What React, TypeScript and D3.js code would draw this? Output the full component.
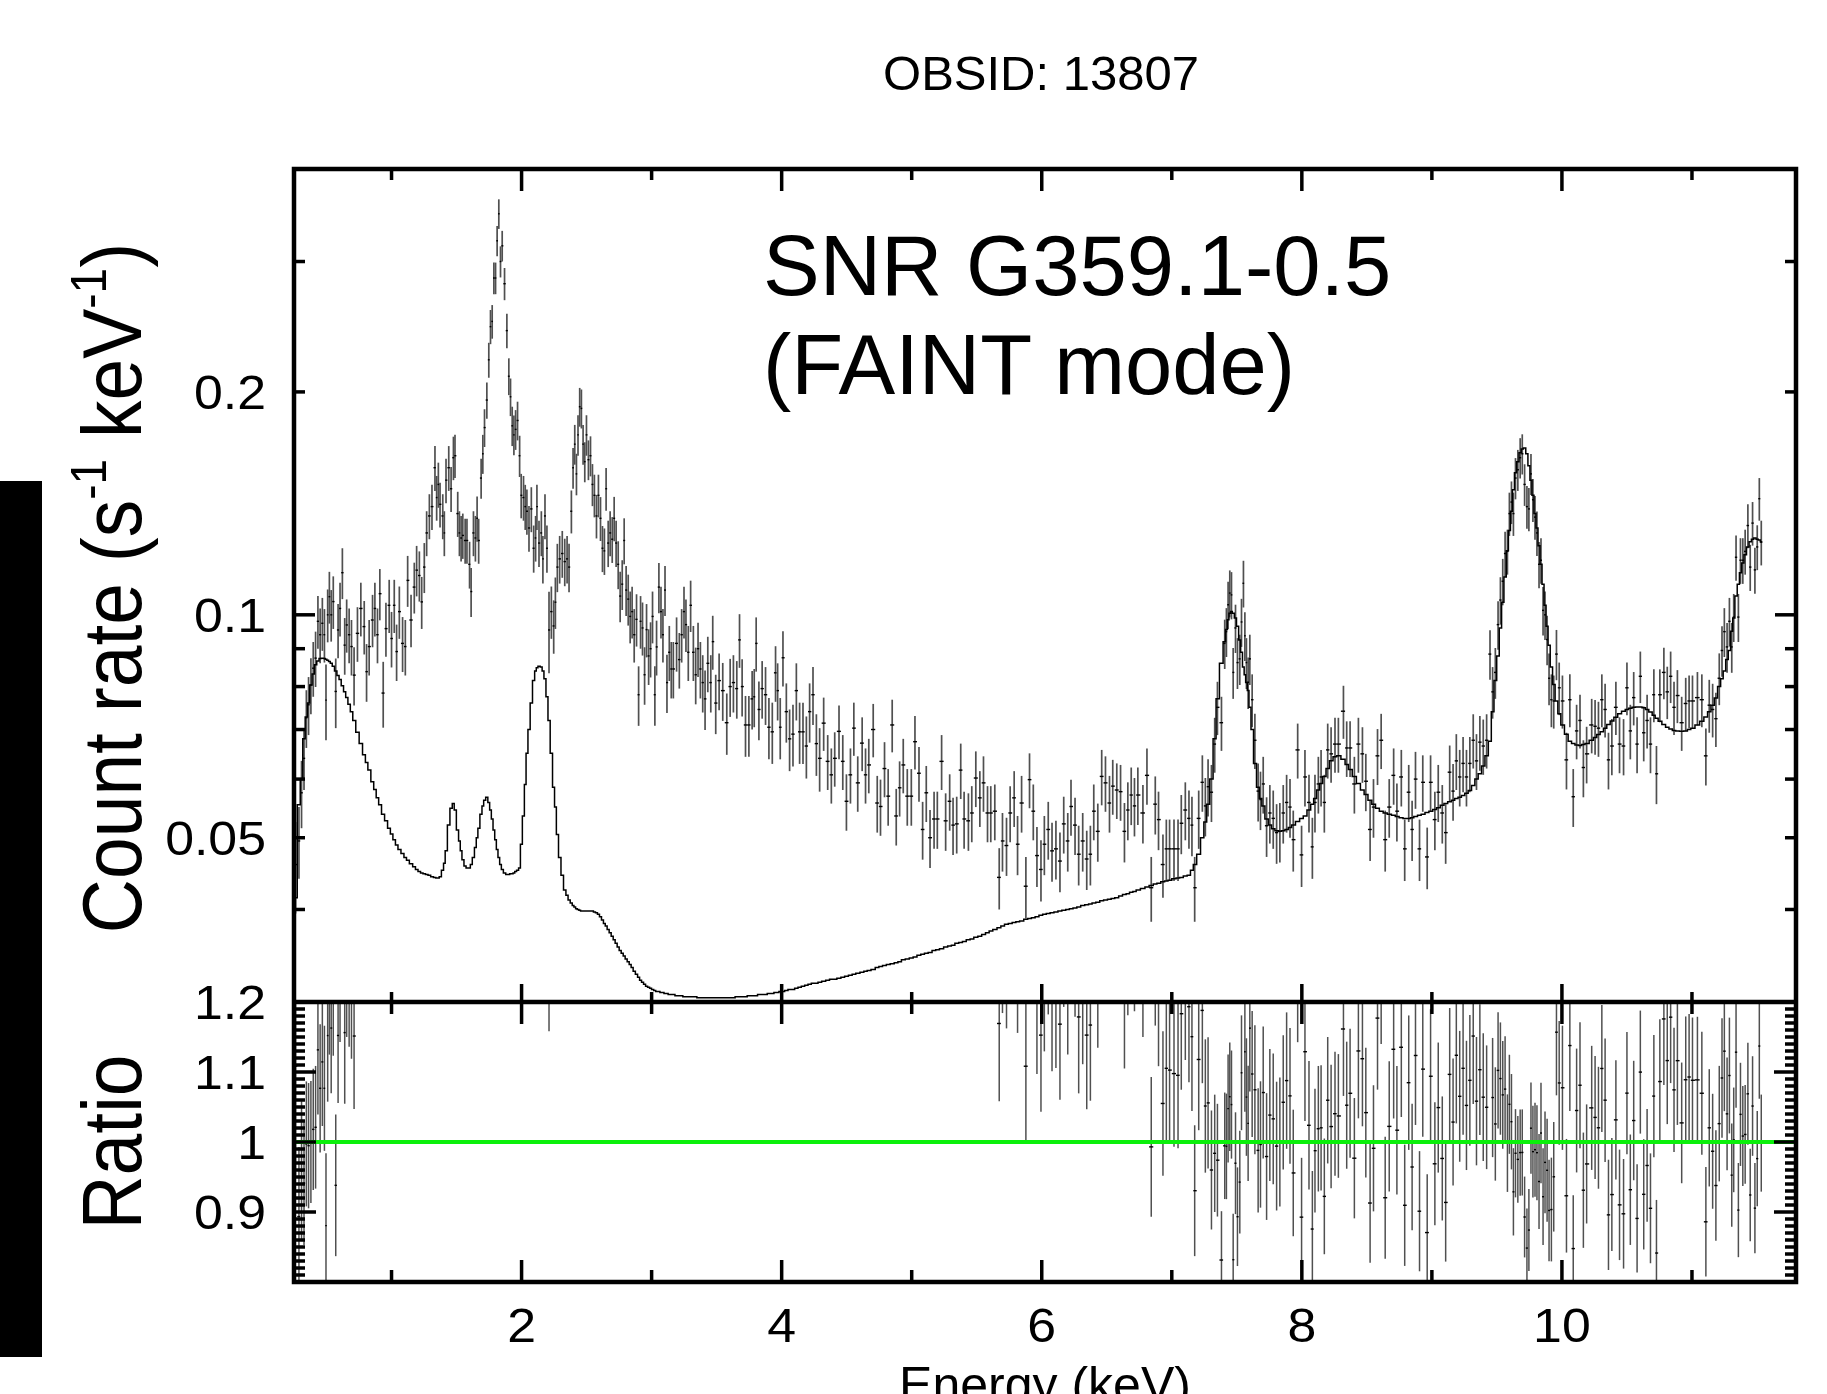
import * as d3 from "d3";
import React, { useEffect, useRef } from "react";

const WIDTH = 1827;
const HEIGHT = 1394;

// grouped channels: [energy keV, rate (s^-1 keV^-1), 1-sigma error, folded model]
const chanSoft = [
  [0.262, 0.046, 0.0065, 0.0415], [0.288, 0.0495, 0.0055, 0.0554], [0.308, 0.0575, 0.006, 0.06], [0.327, 0.064, 0.006, 0.068],
  [0.345, 0.0726, 0.0065, 0.0728], [0.362, 0.0756, 0.0068, 0.076], [0.38, 0.0804, 0.007, 0.0804], [0.398, 0.0847, 0.0072, 0.0832],
  [0.416, 0.0874, 0.0075, 0.0856], [0.434, 0.098, 0.008, 0.0866], [0.451, 0.094, 0.008, 0.0873], [0.468, 0.0974, 0.008, 0.0874],
  [0.484, 0.094, 0.0078, 0.0873], [0.496, 0.0767, 0.009, 0.0871], [0.509, 0.1, 0.0082, 0.0868], [0.522, 0.1058, 0.0085, 0.0865],
  [0.536, 0.1, 0.008, 0.086], [0.552, 0.1042, 0.0085, 0.0852], [0.571, 0.0788, 0.0085, 0.084], [0.589, 0.0954, 0.008, 0.0828],
  [0.604, 0.102, 0.0085, 0.0818], [0.622, 0.114, 0.009, 0.0802], [0.64, 0.091, 0.008, 0.0787], [0.655, 0.0969, 0.008, 0.0773],
  [0.674, 0.094, 0.008, 0.0757], [0.692, 0.0906, 0.0078, 0.074], [0.712, 0.0829, 0.0075, 0.072], [0.738, 0.0944, 0.008, 0.0694],
  [0.764, 0.102, 0.0085, 0.067], [0.79, 0.0964, 0.008, 0.0647], [0.808, 0.0838, 0.0075, 0.0632], [0.828, 0.0906, 0.0078, 0.0617],
  [0.854, 0.0984, 0.008, 0.0595], [0.872, 0.102, 0.0085, 0.0581], [0.892, 0.094, 0.008, 0.0566], [0.91, 0.1068, 0.0085, 0.0554],
  [0.936, 0.0784, 0.008, 0.0538], [0.957, 0.0958, 0.008, 0.0527], [0.982, 0.103, 0.0085, 0.0515], [1.0, 0.0929, 0.008, 0.0506],
  [1.021, 0.103, 0.0085, 0.0497], [1.039, 0.0892, 0.0078, 0.0489], [1.06, 0.101, 0.0082, 0.0482], [1.085, 0.0915, 0.0078, 0.0476],
  [1.106, 0.0906, 0.0078, 0.047], [1.124, 0.1113, 0.0088, 0.0466], [1.15, 0.0984, 0.008, 0.0461], [1.175, 0.109, 0.0086, 0.0457],
  [1.193, 0.1149, 0.009, 0.0453], [1.214, 0.113, 0.0088, 0.045], [1.232, 0.1041, 0.0084, 0.0448], [1.252, 0.116, 0.009, 0.0447],
];

// Mg / Si blend and the Si peak
const chanSi = [
  [1.27, 0.129, 0.009, 0.0446], [1.291, 0.136, 0.0095, 0.0445], [1.311, 0.14, 0.0098, 0.0443], [1.334, 0.158, 0.011, 0.0442],
  [1.347, 0.144, 0.01, 0.0441], [1.36, 0.15, 0.0105, 0.0441], [1.373, 0.141, 0.0098, 0.0443], [1.394, 0.136, 0.0095, 0.0452],
  [1.406, 0.129, 0.009, 0.0462], [1.419, 0.152, 0.0105, 0.048], [1.44, 0.158, 0.011, 0.052], [1.458, 0.148, 0.0103, 0.0548],
  [1.476, 0.163, 0.011, 0.0556], [1.488, 0.164, 0.011, 0.0545], [1.509, 0.137, 0.0096, 0.0512], [1.522, 0.129, 0.009, 0.0495],
  [1.535, 0.127, 0.009, 0.048], [1.548, 0.128, 0.009, 0.0467], [1.566, 0.126, 0.0088, 0.0458], [1.58, 0.126, 0.0088, 0.0455],
  [1.6, 0.117, 0.0085, 0.0455], [1.612, 0.1075, 0.0082, 0.046], [1.63, 0.129, 0.009, 0.047], [1.645, 0.127, 0.009, 0.0485],
  [1.658, 0.135, 0.0095, 0.05], [1.67, 0.126, 0.0088, 0.0515], [1.689, 0.153, 0.0095, 0.0538], [1.702, 0.165, 0.01, 0.0552],
  [1.715, 0.179, 0.0105, 0.0562], [1.733, 0.195, 0.011, 0.0567], [1.748, 0.221, 0.012, 0.0558], [1.761, 0.245, 0.013, 0.0545],
  [1.774, 0.249, 0.013, 0.053], [1.787, 0.285, 0.014, 0.0512], [1.8, 0.285, 0.014, 0.0497], [1.812, 0.32, 0.015, 0.0482],
  [1.825, 0.348, 0.016, 0.047], [1.838, 0.3, 0.0145, 0.046], [1.851, 0.315, 0.015, 0.0453], [1.869, 0.28, 0.014, 0.0448],
  [1.887, 0.242, 0.013, 0.0446], [1.902, 0.21, 0.012, 0.0446], [1.915, 0.197, 0.0115, 0.0447], [1.928, 0.18, 0.011, 0.0447],
  [1.941, 0.175, 0.0108, 0.0448], [1.954, 0.178, 0.011, 0.045], [1.969, 0.183, 0.011, 0.0452], [1.985, 0.164, 0.0105, 0.0455],
  [1.997, 0.145, 0.01, 0.049], [2.015, 0.144, 0.01, 0.0535], [2.028, 0.14, 0.0098, 0.059], [2.041, 0.138, 0.0097, 0.065],
  [2.057, 0.131, 0.0093, 0.07], [2.075, 0.139, 0.0097, 0.076], [2.093, 0.123, 0.009, 0.0815], [2.108, 0.127, 0.009, 0.084],
  [2.118, 0.14, 0.0098, 0.0848], [2.134, 0.125, 0.009, 0.0852], [2.152, 0.129, 0.009, 0.085], [2.164, 0.119, 0.0088, 0.084],
  [2.18, 0.136, 0.0095, 0.082], [2.195, 0.123, 0.009, 0.0775], [2.211, 0.0954, 0.012, 0.072], [2.229, 0.101, 0.0082, 0.065],
  [2.247, 0.0966, 0.008, 0.0585], [2.26, 0.104, 0.0083, 0.055], [2.275, 0.116, 0.0087, 0.0505], [2.293, 0.119, 0.0088, 0.047],
  [2.313, 0.121, 0.0088, 0.0445], [2.332, 0.118, 0.0087, 0.0425], [2.35, 0.119, 0.0088, 0.0418], [2.365, 0.116, 0.0087, 0.0412],
];

// S peak and the continuum down to 4.3 keV
const chanS = [
  [2.383, 0.138, 0.0092, 0.0408], [2.396, 0.158, 0.01, 0.0405], [2.409, 0.17, 0.0105, 0.0403], [2.422, 0.155, 0.01, 0.0401],
  [2.434, 0.175, 0.011, 0.04], [2.447, 0.191, 0.0115, 0.0399], [2.46, 0.19, 0.0115, 0.0398], [2.473, 0.17, 0.0105, 0.0398],
  [2.486, 0.161, 0.01, 0.0398], [2.499, 0.175, 0.011, 0.0398], [2.514, 0.162, 0.01, 0.0398], [2.53, 0.164, 0.0102, 0.0398],
  [2.545, 0.15, 0.0098, 0.0398], [2.56, 0.145, 0.0096, 0.0397], [2.576, 0.136, 0.0092, 0.0396], [2.591, 0.145, 0.0096, 0.0394],
  [2.607, 0.135, 0.0092, 0.0391], [2.622, 0.123, 0.0088, 0.0387], [2.637, 0.122, 0.0088, 0.0383], [2.65, 0.148, 0.0098, 0.038],
  [2.666, 0.125, 0.009, 0.0376], [2.681, 0.129, 0.009, 0.0372], [2.697, 0.1265, 0.009, 0.0368], [2.712, 0.135, 0.0093, 0.0364],
  [2.727, 0.125, 0.009, 0.036], [2.743, 0.117, 0.0087, 0.0356], [2.758, 0.106, 0.0083, 0.0352], [2.774, 0.11, 0.0085, 0.0349],
  [2.789, 0.126, 0.009, 0.0346], [2.804, 0.108, 0.0084, 0.0343], [2.82, 0.105, 0.0083, 0.034], [2.835, 0.0995, 0.008, 0.0337],
  [2.85, 0.101, 0.0081, 0.0334], [2.866, 0.094, 0.0078, 0.033], [2.884, 0.0986, 0.008, 0.0327], [2.9, 0.078, 0.0072, 0.0324],
  [2.915, 0.098, 0.008, 0.0321], [2.93, 0.096, 0.0079, 0.0319], [2.946, 0.083, 0.0074, 0.0317], [2.961, 0.0955, 0.0079, 0.0315],
  [2.977, 0.088, 0.0076, 0.0314], [2.992, 0.09, 0.0077, 0.0313], [3.007, 0.0995, 0.008, 0.0312], [3.025, 0.078, 0.0072, 0.0311],
  [3.038, 0.0905, 0.0077, 0.031], [3.056, 0.109, 0.0085, 0.031], [3.072, 0.101, 0.0081, 0.0309], [3.087, 0.094, 0.0078, 0.0309],
  [3.103, 0.108, 0.0084, 0.0308], [3.118, 0.081, 0.0073, 0.0308], [3.136, 0.089, 0.0076, 0.0307], [3.151, 0.0845, 0.0074, 0.0307],
  [3.167, 0.0845, 0.0074, 0.0307], [3.192, 0.0915, 0.0077, 0.0306], [3.213, 0.087, 0.0075, 0.0306], [3.231, 0.094, 0.0078, 0.0306],
  [3.249, 0.101, 0.0081, 0.0305], [3.264, 0.097, 0.0079, 0.0305], [3.282, 0.089, 0.0076, 0.0305], [3.3, 0.103, 0.0082, 0.0305],
  [3.321, 0.089, 0.0076, 0.0305], [3.339, 0.083, 0.0073, 0.0305], [3.357, 0.09, 0.0076, 0.0304], [3.375, 0.0845, 0.0074, 0.0304],
  [3.393, 0.081, 0.0072, 0.0304], [3.411, 0.077, 0.0071, 0.0304], [3.432, 0.086, 0.0074, 0.0304], [3.455, 0.081, 0.0072, 0.0304],
  [3.47, 0.092, 0.0077, 0.0304], [3.493, 0.076, 0.007, 0.0304], [3.519, 0.0815, 0.0072, 0.0304], [3.547, 0.079, 0.0071, 0.0304],
  [3.578, 0.0715, 0.0068, 0.0304], [3.604, 0.08, 0.0072, 0.0304], [3.629, 0.081, 0.0072, 0.0304], [3.655, 0.0795, 0.0071, 0.0305],
  [3.676, 0.0925, 0.0077, 0.0305], [3.696, 0.08, 0.0071, 0.0305], [3.722, 0.071, 0.0067, 0.0305], [3.748, 0.071, 0.0067, 0.0306],
  [3.773, 0.077, 0.007, 0.0306], [3.789, 0.0775, 0.007, 0.0306], [3.804, 0.0915, 0.0077, 0.0306], [3.825, 0.0745, 0.0068, 0.0307],
  [3.85, 0.0795, 0.0071, 0.0307], [3.876, 0.078, 0.007, 0.0307], [3.902, 0.0705, 0.0067, 0.0308], [3.928, 0.0695, 0.0066, 0.0308],
  [3.953, 0.0835, 0.0072, 0.0309], [3.969, 0.079, 0.007, 0.0309], [3.989, 0.0705, 0.0067, 0.031], [4.01, 0.0875, 0.0075, 0.031],
  [4.036, 0.074, 0.0068, 0.0311], [4.061, 0.068, 0.0065, 0.0312], [4.087, 0.069, 0.0066, 0.0312], [4.113, 0.079, 0.007, 0.0313],
  [4.138, 0.0695, 0.0066, 0.0314], [4.164, 0.0695, 0.0066, 0.0315], [4.19, 0.0665, 0.0064, 0.0316], [4.215, 0.074, 0.0068, 0.0317],
  [4.241, 0.078, 0.007, 0.0318], [4.267, 0.067, 0.0064, 0.0318], [4.292, 0.064, 0.0063, 0.0319],
];

// 4.3 - 6.6 keV continuum
const chanMid = [
  [4.323, 0.0714, 0.0059, 0.032], [4.354, 0.0634, 0.0054, 0.0321], [4.382, 0.0608, 0.0052, 0.0322], [4.408, 0.064, 0.0054, 0.0322],
  [4.441, 0.0696, 0.0058, 0.0323], [4.47, 0.0634, 0.0054, 0.0324], [4.498, 0.056, 0.0049, 0.0325], [4.529, 0.0608, 0.0052, 0.0326],
  [4.555, 0.0703, 0.0058, 0.0327], [4.585, 0.0593, 0.0051, 0.0328], [4.619, 0.0671, 0.0056, 0.0329], [4.645, 0.0608, 0.0052, 0.033],
  [4.67, 0.0627, 0.0053, 0.0331], [4.704, 0.07, 0.0058, 0.0332], [4.735, 0.0557, 0.0049, 0.0334], [4.76, 0.0551, 0.0048, 0.0335],
  [4.791, 0.062, 0.0053, 0.0336], [4.819, 0.0569, 0.005, 0.0337], [4.85, 0.071, 0.0058, 0.0338], [4.881, 0.0535, 0.0047, 0.0339],
  [4.907, 0.0584, 0.005, 0.034], [4.935, 0.0627, 0.0053, 0.0342], [4.966, 0.0569, 0.005, 0.0343], [4.997, 0.0569, 0.005, 0.0344],
  [5.025, 0.0674, 0.0056, 0.0345], [5.056, 0.0611, 0.0052, 0.0347], [5.084, 0.0513, 0.0046, 0.0348], [5.112, 0.0575, 0.005, 0.0349],
  [5.141, 0.05, 0.0045, 0.035], [5.172, 0.053, 0.0047, 0.0352], [5.197, 0.053, 0.0047, 0.0353], [5.23, 0.0634, 0.0054, 0.0354],
  [5.261, 0.0527, 0.0047, 0.0356], [5.292, 0.056, 0.0049, 0.0357], [5.318, 0.052, 0.0046, 0.0358], [5.346, 0.0522, 0.0046, 0.036],
  [5.377, 0.0617, 0.0053, 0.0361], [5.403, 0.053, 0.0047, 0.0362], [5.436, 0.0527, 0.0047, 0.0364], [5.462, 0.054, 0.0047, 0.0365],
  [5.493, 0.0602, 0.0052, 0.0367], [5.524, 0.0566, 0.0049, 0.0368], [5.552, 0.0593, 0.0051, 0.037], [5.583, 0.054, 0.0047, 0.0372],
  [5.608, 0.054, 0.0047, 0.0374], [5.639, 0.0543, 0.0047, 0.0376], [5.673, 0.0442, 0.0042, 0.0378], [5.698, 0.0495, 0.0045, 0.038],
  [5.729, 0.0488, 0.0044, 0.0382], [5.757, 0.054, 0.0047, 0.0383], [5.788, 0.0566, 0.0049, 0.0384], [5.814, 0.049, 0.0045, 0.0385],
  [5.845, 0.0557, 0.0049, 0.0386], [5.878, 0.043, 0.0041, 0.0388], [5.906, 0.0599, 0.0051, 0.0389], [5.935, 0.0543, 0.0047, 0.039],
  [5.963, 0.0473, 0.0044, 0.0391], [5.994, 0.0453, 0.0043, 0.0393], [6.02, 0.049, 0.0045, 0.0394], [6.05, 0.0513, 0.0046, 0.0395],
  [6.079, 0.048, 0.0044, 0.0396], [6.109, 0.0483, 0.0044, 0.0397], [6.14, 0.0465, 0.0043, 0.0398], [6.169, 0.0522, 0.0046, 0.0399],
  [6.2, 0.0495, 0.0045, 0.04], [6.225, 0.0551, 0.0048, 0.0401], [6.256, 0.052, 0.0046, 0.0402], [6.284, 0.0475, 0.0044, 0.0403],
  [6.315, 0.0495, 0.0045, 0.0405], [6.346, 0.0468, 0.0043, 0.0406], [6.374, 0.0475, 0.0044, 0.0407], [6.4, 0.0543, 0.0047, 0.0408],
  [6.431, 0.051, 0.0046, 0.0409], [6.461, 0.0605, 0.0052, 0.0411], [6.49, 0.0593, 0.0051, 0.0412], [6.521, 0.0557, 0.0049, 0.0413],
  [6.546, 0.0587, 0.005, 0.0414], [6.577, 0.058, 0.005, 0.0415], [6.606, 0.0577, 0.005, 0.0417],
];

// first hard line near 7.45 keV and the bump near 8.3 keV
const chanHardA = [
  [6.636, 0.051, 0.0047, 0.0419], [6.662, 0.0545, 0.0049, 0.042], [6.688, 0.0571, 0.0051, 0.0422], [6.713, 0.0552, 0.005, 0.0423],
  [6.739, 0.0571, 0.0051, 0.0425], [6.778, 0.054, 0.0049, 0.0427], [6.809, 0.0607, 0.0053, 0.0429], [6.842, 0.0428, 0.0043, 0.0431],
  [6.873, 0.0555, 0.005, 0.0433], [6.898, 0.0529, 0.0048, 0.0434], [6.932, 0.046, 0.0045, 0.0436], [6.958, 0.0483, 0.0046, 0.0437],
  [6.983, 0.0483, 0.0046, 0.0438], [7.017, 0.0483, 0.0046, 0.044], [7.048, 0.0483, 0.0046, 0.0441], [7.073, 0.0523, 0.0048, 0.0442],
  [7.104, 0.0545, 0.0049, 0.0444], [7.132, 0.0531, 0.0048, 0.0445], [7.155, 0.052, 0.0048, 0.0452], [7.176, 0.0428, 0.0043, 0.046],
  [7.207, 0.0531, 0.0048, 0.0475], [7.235, 0.0594, 0.0052, 0.05], [7.258, 0.0552, 0.005, 0.0525], [7.279, 0.0586, 0.0052, 0.0555],
  [7.305, 0.0576, 0.0051, 0.06], [7.33, 0.0669, 0.0057, 0.068], [7.351, 0.075, 0.0062, 0.077], [7.382, 0.0715, 0.006, 0.086],
  [7.407, 0.0915, 0.007, 0.092], [7.42, 0.0949, 0.0072, 0.0955], [7.433, 0.1032, 0.0076, 0.0985], [7.446, 0.107, 0.0078, 0.1005],
  [7.459, 0.1064, 0.0078, 0.101], [7.472, 0.0836, 0.0066, 0.1005], [7.49, 0.096, 0.0072, 0.099], [7.505, 0.0862, 0.0068, 0.0965],
  [7.523, 0.0872, 0.0068, 0.0925], [7.536, 0.0978, 0.0073, 0.089], [7.551, 0.1103, 0.008, 0.085], [7.562, 0.0937, 0.0071, 0.083],
  [7.574, 0.0862, 0.0068, 0.081], [7.587, 0.0811, 0.0065, 0.079], [7.6, 0.0872, 0.0068, 0.075], [7.618, 0.0768, 0.0063, 0.07],
  [7.639, 0.0677, 0.0058, 0.063], [7.664, 0.0578, 0.0052, 0.0585], [7.682, 0.0563, 0.0051, 0.0565], [7.703, 0.0591, 0.0052, 0.0552],
  [7.729, 0.0519, 0.0048, 0.053], [7.754, 0.054, 0.0049, 0.052], [7.78, 0.0531, 0.0048, 0.0514], [7.806, 0.0508, 0.0047, 0.0511],
  [7.831, 0.051, 0.0047, 0.051], [7.857, 0.054, 0.0049, 0.0511], [7.883, 0.0558, 0.005, 0.0513], [7.909, 0.055, 0.005, 0.0516],
  [7.934, 0.0497, 0.0047, 0.052], [7.968, 0.0657, 0.0056, 0.0526], [7.998, 0.0474, 0.0045, 0.0531], [8.024, 0.0604, 0.0053, 0.0535],
  [8.055, 0.0558, 0.005, 0.0545], [8.081, 0.0486, 0.0046, 0.0555], [8.101, 0.0558, 0.005, 0.0565], [8.127, 0.0591, 0.0052, 0.058],
  [8.148, 0.0604, 0.0053, 0.0592], [8.173, 0.0558, 0.005, 0.0605], [8.199, 0.0657, 0.0056, 0.062], [8.225, 0.0649, 0.0056, 0.0635],
  [8.255, 0.0669, 0.0057, 0.0643], [8.281, 0.0669, 0.0057, 0.0645], [8.32, 0.0741, 0.0061, 0.0638], [8.345, 0.0661, 0.0057, 0.0628],
  [8.371, 0.0661, 0.0057, 0.0618], [8.404, 0.0591, 0.0052, 0.0605], [8.435, 0.0669, 0.0057, 0.0592], [8.466, 0.0649, 0.0056, 0.058],
  [8.492, 0.0596, 0.0053, 0.0572], [8.525, 0.0513, 0.0048, 0.0562], [8.551, 0.055, 0.005, 0.0555], [8.582, 0.0645, 0.0056, 0.0548],
  [8.61, 0.0677, 0.0058, 0.0543],
];

// the strong line near 9.7 keV and the rise above 11 keV
const chanHardB = [
  [8.641, 0.0497, 0.0047, 0.054], [8.672, 0.055, 0.005, 0.0538], [8.706, 0.0607, 0.0053, 0.0536], [8.731, 0.0543, 0.0049, 0.0534],
  [8.765, 0.0604, 0.0053, 0.0532], [8.791, 0.0483, 0.0046, 0.0531], [8.822, 0.0576, 0.0051, 0.0531], [8.848, 0.0513, 0.0048, 0.0532],
  [8.874, 0.06, 0.0053, 0.0534], [8.905, 0.0483, 0.0046, 0.0536], [8.93, 0.0594, 0.0052, 0.0538], [8.964, 0.0471, 0.0045, 0.0541],
  [8.99, 0.0594, 0.0052, 0.0543], [9.023, 0.0529, 0.0048, 0.0546], [9.049, 0.0576, 0.0051, 0.0549], [9.08, 0.054, 0.0049, 0.0553],
  [9.106, 0.0508, 0.0047, 0.0556], [9.137, 0.0613, 0.0053, 0.0559], [9.163, 0.0578, 0.0051, 0.0562], [9.188, 0.0635, 0.0055, 0.0565],
  [9.214, 0.0604, 0.0053, 0.0567], [9.24, 0.063, 0.0054, 0.057], [9.266, 0.0604, 0.0053, 0.0574], [9.292, 0.063, 0.0054, 0.0579],
  [9.318, 0.0677, 0.0057, 0.0588], [9.343, 0.0635, 0.0055, 0.06], [9.369, 0.0673, 0.0057, 0.061], [9.395, 0.0665, 0.0057, 0.0625],
  [9.421, 0.0677, 0.0057, 0.0645], [9.447, 0.0885, 0.0068, 0.0675], [9.467, 0.0787, 0.0063, 0.074], [9.488, 0.0836, 0.0066, 0.0815],
  [9.509, 0.097, 0.0073, 0.088], [9.527, 0.1047, 0.0077, 0.096], [9.545, 0.111, 0.008, 0.104], [9.563, 0.121, 0.0085, 0.1125],
  [9.581, 0.1218, 0.0085, 0.122], [9.596, 0.137, 0.0092, 0.13], [9.612, 0.142, 0.0094, 0.138], [9.627, 0.137, 0.0092, 0.1475],
  [9.643, 0.153, 0.0098, 0.1555], [9.661, 0.157, 0.01, 0.161], [9.679, 0.163, 0.0102, 0.1655], [9.695, 0.165, 0.0103, 0.1675],
  [9.713, 0.15, 0.0097, 0.168], [9.731, 0.14, 0.0093, 0.165], [9.746, 0.139, 0.0093, 0.159], [9.762, 0.155, 0.0099, 0.152],
  [9.777, 0.143, 0.0095, 0.145], [9.793, 0.1355, 0.0092, 0.137], [9.808, 0.129, 0.0089, 0.131], [9.824, 0.117, 0.0084, 0.124],
  [9.839, 0.1185, 0.0084, 0.117], [9.855, 0.1014, 0.0076, 0.11], [9.87, 0.1, 0.0075, 0.103], [9.886, 0.0926, 0.0071, 0.0965],
  [9.901, 0.0821, 0.0066, 0.091], [9.919, 0.0768, 0.0063, 0.085], [9.937, 0.0765, 0.0063, 0.0805], [9.958, 0.0885, 0.0069, 0.0765],
  [9.979, 0.0797, 0.0065, 0.0735], [10.004, 0.0765, 0.0063, 0.071], [10.035, 0.0637, 0.0056, 0.069], [10.061, 0.0768, 0.0063, 0.0675],
  [10.087, 0.0568, 0.0051, 0.067], [10.113, 0.0697, 0.0059, 0.0667], [10.139, 0.072, 0.006, 0.0666], [10.165, 0.0622, 0.0055, 0.0668],
  [10.19, 0.0649, 0.0057, 0.067], [10.229, 0.071, 0.006, 0.0677], [10.255, 0.0707, 0.006, 0.0683], [10.281, 0.0703, 0.006, 0.0689],
  [10.307, 0.0768, 0.0063, 0.0695], [10.332, 0.0745, 0.0062, 0.0703], [10.358, 0.0637, 0.0056, 0.0711], [10.384, 0.0665, 0.0058, 0.0719],
  [10.415, 0.075, 0.0062, 0.0727], [10.443, 0.0669, 0.0058, 0.0735], [10.474, 0.0665, 0.0058, 0.0741], [10.5, 0.0797, 0.0065, 0.0745],
  [10.526, 0.0697, 0.0059, 0.0748], [10.552, 0.0773, 0.0064, 0.075], [10.578, 0.0669, 0.0058, 0.0751], [10.603, 0.0826, 0.0066, 0.0751],
  [10.629, 0.0693, 0.0059, 0.0749], [10.655, 0.072, 0.006, 0.0745], [10.681, 0.0669, 0.0058, 0.0739], [10.707, 0.078, 0.0064, 0.0732],
  [10.727, 0.061, 0.0055, 0.0725], [10.753, 0.078, 0.0064, 0.0718], [10.784, 0.0836, 0.0067, 0.0711], [10.81, 0.0787, 0.0064, 0.0705],
  [10.836, 0.0826, 0.0066, 0.0701], [10.862, 0.075, 0.0062, 0.0698], [10.888, 0.0778, 0.0064, 0.0697], [10.921, 0.0715, 0.006, 0.0696],
  [10.952, 0.0759, 0.0063, 0.0697], [10.978, 0.0765, 0.0063, 0.07], [11.004, 0.0765, 0.0063, 0.0703], [11.042, 0.0773, 0.0064, 0.071],
  [11.076, 0.0768, 0.0063, 0.0718], [11.107, 0.0645, 0.0057, 0.0728], [11.133, 0.0755, 0.0062, 0.074], [11.159, 0.0745, 0.0062, 0.0755],
  [11.184, 0.0724, 0.0061, 0.0772], [11.21, 0.0821, 0.0066, 0.08], [11.231, 0.0895, 0.007, 0.082], [11.249, 0.0949, 0.0072, 0.084],
  [11.27, 0.0905, 0.007, 0.087], [11.288, 0.098, 0.0074, 0.0895], [11.306, 0.0905, 0.007, 0.095], [11.321, 0.0993, 0.0074, 0.099],
  [11.339, 0.1196, 0.0084, 0.106], [11.357, 0.0993, 0.0074, 0.11], [11.373, 0.1185, 0.0084, 0.114], [11.391, 0.1185, 0.0084, 0.1175],
  [11.409, 0.1218, 0.0085, 0.1205], [11.43, 0.132, 0.009, 0.1235], [11.448, 0.116, 0.0083, 0.1255], [11.466, 0.133, 0.009, 0.1265],
  [11.484, 0.115, 0.0082, 0.127], [11.502, 0.1235, 0.0086, 0.1265], [11.518, 0.1435, 0.0095, 0.1262], [11.533, 0.1253, 0.0087, 0.1255],
];

const energyRange = [0.25, 11.8];
const rateRange = [0.03, 0.4];
const ratioRange = [0.8, 1.2];
const energyLabels = [2, 4, 6, 8, 10];
const energyMinor = [1, 3, 5, 7, 9, 11];
const rateLabels = [0.05, 0.1, 0.2];
const rateDecades = [0.1];
const rateMinor = [0.04, 0.05, 0.06, 0.07, 0.08, 0.09, 0.2, 0.3];
const ratioLabels = [0.9, 1, 1.1, 1.2];
const ratioMajor = [0.9, 1.0, 1.1];

const obsTitle = "OBSID: 13807";
const sourceLines = ["SNR G359.1-0.5", "(FAINT mode)"];

const FONT = "'Liberation Sans', Arial, Helvetica, sans-serif";

const SpectrumPlot = () => {
  const svgRef = useRef(null);

  useEffect(() => {
    document.body.style.margin = "0";
    document.body.style.overflow = "hidden";

    const svg = d3.select(svgRef.current);
    svg.selectAll("*").remove();
    svg.attr("width", WIDTH).attr("height", HEIGHT).attr("font-family", FONT);

    const left = 294, right = 1796, top = 169, mid = 1002, bottom = 1282;

    const x = d3.scaleLinear().domain(energyRange).range([left, right]);
    const yRate = d3.scaleLog().domain(rateRange).range([mid, top]);
    const yRatio = d3.scaleLinear().domain(ratioRange).range([bottom, mid]);

    const chans = [...chanSoft, ...chanSi, ...chanS, ...chanMid, ...chanHardA, ...chanHardB]
      .map(([e, r, err, m]) => ({ e, r, err, m, lo: 0, hi: 0 }));
    // bin edges half-way to the neighbours
    chans.forEach((c, i) => {
      if (i > 0) c.lo = (chans[i - 1].e + c.e) / 2;
      if (i < chans.length - 1) c.hi = (c.e + chans[i + 1].e) / 2;
    });
    const first = chans[0], last = chans[chans.length - 1];
    first.lo = first.e - (first.hi - first.e);
    last.hi = last.e + (last.e - last.lo);

    svg.append("rect").attr("width", WIDTH).attr("height", HEIGHT).attr("fill", "#fff");

    const defs = svg.append("defs");
    defs.append("clipPath").attr("id", "clip-rate").append("rect")
      .attr("x", left).attr("y", top).attr("width", right - left).attr("height", mid - top);
    defs.append("clipPath").attr("id", "clip-ratio").append("rect")
      .attr("x", left).attr("y", mid).attr("width", right - left).attr("height", bottom - mid);

    const barColor = "#505050";

    // upper panel: data with error bars and the folded model
    const gRate = svg.append("g").attr("clip-path", "url(#clip-rate)");
    gRate.selectAll("line.err").data(chans).join("line").attr("class", "err")
      .attr("x1", d => x(d.e)).attr("x2", d => x(d.e))
      .attr("y1", d => yRate(d.r + d.err)).attr("y2", d => yRate(Math.max(d.r - d.err, 0.001)))
      .attr("stroke", barColor).attr("stroke-width", 1.7);
    gRate.selectAll("line.bin").data(chans).join("line").attr("class", "bin")
      .attr("x1", d => x(d.lo)).attr("x2", d => x(d.hi))
      .attr("y1", d => yRate(d.r)).attr("y2", d => yRate(d.r))
      .attr("stroke", "#000").attr("stroke-width", 1.4);

    const modelPts = [[first.lo, first.m], ...chans.map(c => [c.e, c.m]), [last.hi, last.m]];
    const step = d3.line().x(d => x(d[0])).y(d => yRate(d[1])).curve(d3.curveStep);
    gRate.append("path").attr("d", step(modelPts))
      .attr("fill", "none").attr("stroke", "#000").attr("stroke-width", 1.5);

    // lower panel: data / model
    const ratios = chans.map(c => ({ ...c, q: c.r / c.m, qe: c.err / c.m }));
    const gRatio = svg.append("g").attr("clip-path", "url(#clip-ratio)");
    gRatio.selectAll("line.err").data(ratios).join("line").attr("class", "err")
      .attr("x1", d => x(d.e)).attr("x2", d => x(d.e))
      .attr("y1", d => yRatio(d.q + d.qe)).attr("y2", d => yRatio(d.q - d.qe))
      .attr("stroke", barColor).attr("stroke-width", 1.5);
    gRatio.selectAll("line.bin").data(ratios).join("line").attr("class", "bin")
      .attr("x1", d => x(d.lo)).attr("x2", d => x(d.hi))
      .attr("y1", d => yRatio(d.q)).attr("y2", d => yRatio(d.q))
      .attr("stroke", "#000").attr("stroke-width", 1.4);
    gRatio.append("line")
      .attr("x1", left).attr("x2", right).attr("y1", yRatio(1)).attr("y2", yRatio(1))
      .attr("stroke", "#0bf00b").attr("stroke-width", 4);

    // frames
    const frame = svg.append("g").attr("fill", "none").attr("stroke", "#000").attr("stroke-width", 4.5);
    frame.append("rect").attr("x", left).attr("y", top).attr("width", right - left).attr("height", bottom - top);
    frame.append("line").attr("x1", left).attr("x2", right).attr("y1", mid).attr("y2", mid);

    const ticks = svg.append("g").attr("stroke", "#000").attr("stroke-width", 3.5);
    const tick = (x1, y1, x2, y2) =>
      ticks.append("line").attr("x1", x1).attr("y1", y1).attr("x2", x2).attr("y2", y2);

    energyLabels.forEach(e => {
      tick(x(e), top, x(e), top + 22);
      tick(x(e), mid, x(e), mid - 18);
      tick(x(e), mid, x(e), mid + 22);
      tick(x(e), bottom, x(e), bottom - 22);
    });
    energyMinor.forEach(e => {
      tick(x(e), top, x(e), top + 11);
      tick(x(e), mid, x(e), mid - 10);
      tick(x(e), mid, x(e), mid + 12);
      tick(x(e), bottom, x(e), bottom - 12);
    });
    rateDecades.forEach(v => {
      tick(left, yRate(v), left + 21, yRate(v));
      tick(right, yRate(v), right - 21, yRate(v));
    });
    rateMinor.forEach(v => {
      tick(left, yRate(v), left + 11, yRate(v));
      tick(right, yRate(v), right - 11, yRate(v));
    });
    d3.range(81, 120).forEach(k => {
      const v = k / 100;
      const len = ratioMajor.some(m => Math.abs(m - v) < 1e-6) ? 22 : 11;
      tick(left, yRatio(v), left + len, yRatio(v));
      tick(right, yRatio(v), right - len, yRatio(v));
    });

    // text
    const text = svg.append("g").attr("fill", "#000");
    const tickSize = 48;
    rateLabels.forEach(v => {
      text.append("text").attr("transform", `translate(266,${yRate(v) + tickSize * 0.36}) scale(1.08,1)`)
        .attr("text-anchor", "end").attr("font-size", tickSize).text(String(v));
    });
    ratioLabels.forEach(v => {
      text.append("text").attr("transform", `translate(266,${yRatio(v) + tickSize * 0.36}) scale(1.08,1)`)
        .attr("text-anchor", "end").attr("font-size", tickSize).text(String(v));
    });
    energyLabels.forEach(e => {
      text.append("text").attr("transform", `translate(${x(e)},1342) scale(1.08,1)`)
        .attr("text-anchor", "middle").attr("font-size", tickSize).text(String(e));
    });
    text.append("text").attr("x", 1045).attr("y", 1402).attr("text-anchor", "middle")
      .attr("font-size", 50).text("Energy (keV)");

    text.append("text").attr("x", 1041).attr("y", 90).attr("text-anchor", "middle")
      .attr("font-size", 49).text(obsTitle);
    sourceLines.forEach((s, i) => {
      text.append("text").attr("x", 763).attr("y", 295 + i * 99).attr("font-size", 85).text(s);
    });

    const yLab = text.append("text")
      .attr("transform", `translate(141,588) scale(1.1,1) rotate(-90)`)
      .attr("text-anchor", "middle").attr("font-size", 75);
    yLab.append("tspan").text("Count rate (s");
    yLab.append("tspan").attr("font-size", 46).attr("dy", -32).text("-1");
    yLab.append("tspan").attr("dy", 32).text(" keV");
    yLab.append("tspan").attr("font-size", 46).attr("dy", -32).text("-1");
    yLab.append("tspan").attr("dy", 32).text(")");

    text.append("text")
      .attr("transform", `translate(141,1142) scale(1.1,1) rotate(-90)`)
      .attr("text-anchor", "middle").attr("font-size", 75).text("Ratio");

    // dark bar along the left edge of the figure
    svg.append("rect").attr("x", 0).attr("y", 481).attr("width", 42).attr("height", 876).attr("fill", "#000");
  }, []);

  return <svg ref={svgRef} style={{ display: "block" }} />;
};

export default function App() {
  return <SpectrumPlot />;
}
